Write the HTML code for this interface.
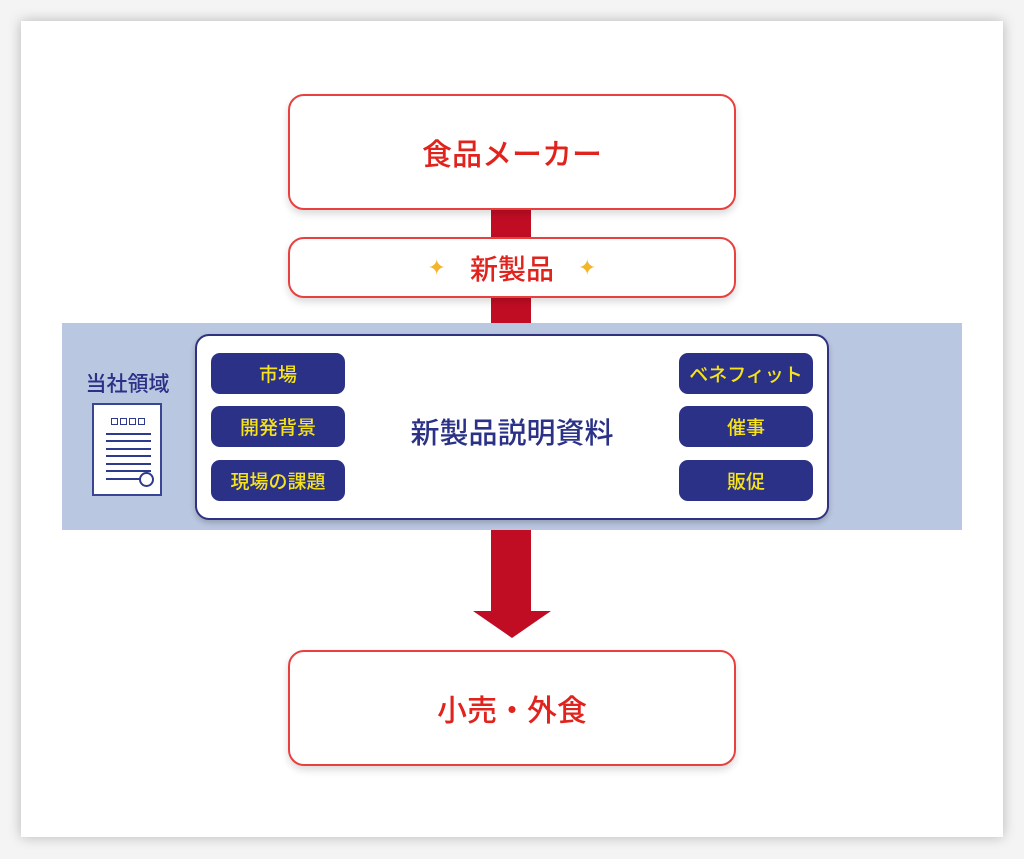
<!DOCTYPE html>
<html><head><meta charset="utf-8"><style>
*{margin:0;padding:0;box-sizing:border-box}
body{width:1024px;height:859px;background:#f4f4f4;position:relative;overflow:hidden;font-family:"Liberation Sans","Noto Sans CJK JP",sans-serif}
.a{position:absolute}
.card{left:21px;top:21px;width:982px;height:816px;background:#fff;box-shadow:0 0 12px rgba(0,0,0,.25)}
.rb{background:#fff;border:2px solid #e8403f;border-radius:16px;box-shadow:0 4px 8px rgba(0,0,0,.15);display:flex;align-items:center;justify-content:center;color:#e0231d;font-weight:500}
.pill{background:#2a3186;border-radius:9px;color:#f6e31a;font-weight:500;font-size:19px;display:flex;align-items:center;justify-content:center;width:134px;height:41px}
.doc div{position:absolute;left:12px;width:45px;height:2px;background:#2e3a8c}
.sq{position:absolute;top:13px;width:7px;height:7px;border:1.5px solid #2e3a8c}
</style></head><body>
<div class="a card"></div>
<div class="a" style="left:491px;top:200px;width:40px;height:415px;background:#c10d24"></div>
<svg class="a" style="left:472px;top:610px" width="80" height="30"><polygon points="1,1 79,1 40,28" fill="#c10d24"/></svg>
<div class="a rb" style="left:288px;top:94px;width:448px;height:116px;font-size:30px">食品メーカー</div>
<div class="a rb" style="left:288px;top:237px;width:448px;height:61px;font-size:28px"><span style="color:#f3b52a;font-size:22px;margin-right:24px">✦</span>新製品<span style="color:#f3b52a;font-size:22px;margin-left:24px">✦</span></div>
<div class="a" style="left:62px;top:323px;width:900px;height:207px;background:#bac7e1"></div>
<div class="a" style="left:70px;top:368px;width:115px;text-align:center;color:#2a3186;font-weight:500;font-size:21px">当社領域</div>
<div class="a doc" style="left:92px;top:403px;width:70px;height:93px;background:#fff;border:2px solid #3a4593">
 <span class="sq" style="left:17px"></span><span class="sq" style="left:26px"></span><span class="sq" style="left:35px"></span><span class="sq" style="left:44px"></span>
 <div style="top:28px"></div><div style="top:35px"></div><div style="top:43px"></div><div style="top:50px"></div><div style="top:58px"></div><div style="top:65px"></div><div style="top:73px;width:36px"></div>
 <span style="position:absolute;left:45px;top:67px;width:15px;height:15px;border:2px solid #2e3a8c;border-radius:50%;background:#fff"></span>
</div>
<div class="a" style="left:195px;top:334px;width:634px;height:186px;background:#fff;border:2px solid #2e3280;border-radius:14px;box-shadow:0 3px 6px rgba(0,0,0,.2)"></div>
<div class="a" style="left:380px;top:410px;width:264px;text-align:center;color:#2a3186;font-weight:500;font-size:29px">新製品説明資料</div>
<div class="a pill" style="left:211px;top:353px">市場</div>
<div class="a pill" style="left:211px;top:406px">開発背景</div>
<div class="a pill" style="left:211px;top:460px">現場の課題</div>
<div class="a pill" style="left:679px;top:353px">ベネフィット</div>
<div class="a pill" style="left:679px;top:406px">催事</div>
<div class="a pill" style="left:679px;top:460px">販促</div>
<div class="a rb" style="left:288px;top:650px;width:448px;height:116px;font-size:30px">小売・外食</div>
</body></html>
